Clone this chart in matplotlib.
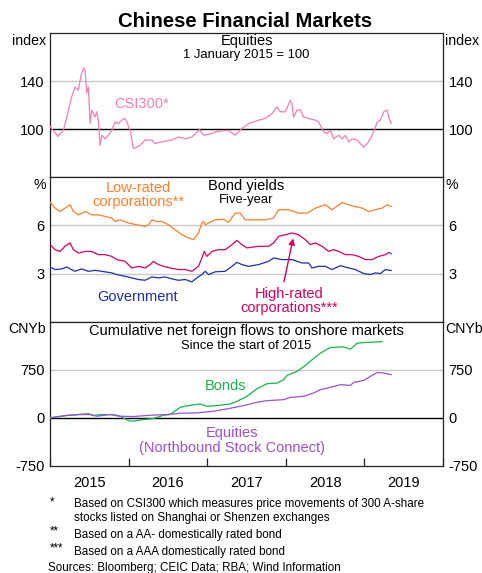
import numpy as np
import matplotlib
matplotlib.use("Agg")
import matplotlib.pyplot as plt

plt.rcParams['font.family'] = ['Liberation Sans', 'DejaVu Sans']

# ---- data (decimal years) ----
csi_t = [2015.000, 2015.098, 2015.169, 2015.213, 2015.276, 2015.318, 2015.361, 2015.395, 2015.429, 2015.446,
         2015.468, 2015.488, 2015.510, 2015.531, 2015.573, 2015.595, 2015.615, 2015.637, 2015.659, 2015.701,
         2015.743, 2015.786, 2015.828, 2015.870, 2015.913, 2015.955, 2015.977, 2016.019, 2016.061, 2016.104,
         2016.146, 2016.210, 2016.296, 2016.338, 2016.423, 2016.550, 2016.634, 2016.720, 2016.805, 2016.902,
         2016.953, 2017.060, 2017.102, 2017.187, 2017.271, 2017.357, 2017.442, 2017.526, 2017.654, 2017.739,
         2017.824, 2017.888, 2017.930, 2017.994, 2018.057, 2018.079, 2018.099, 2018.143, 2018.185, 2018.227,
         2018.290, 2018.376, 2018.418, 2018.482, 2018.525, 2018.567, 2018.609, 2018.673, 2018.716, 2018.758,
         2018.800, 2018.843, 2018.907, 2018.949, 2018.991, 2019.034, 2019.076, 2019.118, 2019.162, 2019.204,
         2019.246, 2019.289, 2019.310, 2019.340]
csi_v = [102.5, 94, 99, 110, 127, 135, 132.5, 145, 151, 149,
         130, 135, 105, 116, 110, 114.5, 107.5, 86.7, 95, 92,
         95, 99, 106, 104.7, 107.5, 109, 106, 99, 84, 85,
         86.7, 91, 91, 88, 89.5, 91, 93.6, 92, 93.6, 99.7,
         95, 96.4, 97.8, 98.6, 99, 95, 100.6, 104.7, 107.5, 109,
         113, 118.6, 114.5, 114.5, 124, 121, 110, 116, 116, 110,
         109, 107.5, 106, 97.8, 96.4, 99, 92, 95, 92, 95,
         89.5, 92, 91, 88, 85, 88, 92, 97.8, 106, 107.5,
         114.5, 116, 110, 104.7]

low_t = [2015.000, 2015.064, 2015.127, 2015.191, 2015.255, 2015.297, 2015.361, 2015.446, 2015.531, 2015.615,
         2015.701, 2015.786, 2015.828, 2015.892, 2015.997, 2016.104, 2016.210, 2016.252, 2016.296, 2016.359,
         2016.423, 2016.507, 2016.592, 2016.678, 2016.762, 2016.825, 2016.889, 2016.932, 2016.953, 2016.975,
         2017.017, 2017.102, 2017.208, 2017.271, 2017.357, 2017.420, 2017.484, 2017.611, 2017.739, 2017.845,
         2017.908, 2018.036, 2018.163, 2018.270, 2018.376, 2018.503, 2018.589, 2018.716, 2018.843, 2018.971,
         2019.055, 2019.140, 2019.225, 2019.289, 2019.340]
low_v = [7.45, 7.08, 6.87, 7.08, 7.29, 6.87, 6.66, 6.87, 6.66, 6.66,
         6.56, 6.46, 6.25, 6.35, 6.15, 6.04, 5.94, 6.04, 6.35, 6.25,
         6.25, 6.04, 5.73, 5.42, 5.22, 5.11, 5.53, 6.15, 6.25, 6.04,
         6.15, 6.35, 6.38, 6.19, 6.77, 6.77, 6.35, 6.35, 6.35, 6.46,
         6.98, 6.98, 6.77, 6.77, 7.08, 7.29, 6.98, 7.43, 7.22, 7.08,
         6.87, 6.98, 7.08, 7.29, 7.18]

high_t = [2015.000, 2015.064, 2015.127, 2015.191, 2015.255, 2015.297, 2015.361, 2015.446, 2015.531, 2015.615,
          2015.701, 2015.786, 2015.850, 2015.955, 2016.041, 2016.125, 2016.210, 2016.274, 2016.316, 2016.380,
          2016.443, 2016.529, 2016.634, 2016.720, 2016.805, 2016.889, 2016.932, 2016.962, 2016.996, 2017.060,
          2017.144, 2017.229, 2017.315, 2017.378, 2017.442, 2017.506, 2017.654, 2017.781, 2017.845, 2017.908,
          2017.994, 2018.079, 2018.163, 2018.248, 2018.312, 2018.376, 2018.461, 2018.545, 2018.609, 2018.673,
          2018.758, 2018.843, 2018.927, 2019.013, 2019.098, 2019.182, 2019.268, 2019.310, 2019.340]
high_v = [4.80, 4.49, 4.38, 4.70, 4.91, 4.49, 4.28, 4.38, 4.38, 4.18,
          4.18, 4.07, 3.87, 3.76, 3.35, 3.45, 3.35, 3.56, 3.76, 3.56,
          3.45, 3.35, 3.25, 3.25, 3.14, 3.45, 3.97, 4.38, 4.07, 4.38,
          4.49, 4.49, 4.80, 5.07, 4.80, 4.60, 4.70, 4.70, 4.91, 5.32,
          5.42, 5.53, 5.42, 5.11, 4.80, 4.91, 4.70, 4.38, 4.49, 4.38,
          4.18, 4.18, 4.07, 3.87, 3.87, 4.07, 4.18, 4.32, 4.24]

gov_t = [2015.000, 2015.064, 2015.149, 2015.213, 2015.255, 2015.318, 2015.404, 2015.488, 2015.573, 2015.659,
         2015.786, 2015.850, 2015.955, 2016.041, 2016.125, 2016.210, 2016.296, 2016.380, 2016.465, 2016.550,
         2016.634, 2016.720, 2016.805, 2016.869, 2016.932, 2016.975, 2017.017, 2017.102, 2017.229, 2017.315,
         2017.378, 2017.442, 2017.526, 2017.654, 2017.781, 2017.845, 2017.952, 2018.079, 2018.206, 2018.290,
         2018.333, 2018.418, 2018.503, 2018.589, 2018.694, 2018.800, 2018.885, 2018.991, 2019.076, 2019.140,
         2019.204, 2019.268, 2019.340]
gov_v = [3.41, 3.25, 3.29, 3.41, 3.29, 3.14, 3.29, 3.14, 3.20, 3.14,
         3.04, 2.94, 2.83, 2.73, 2.63, 2.58, 2.79, 2.73, 2.79, 2.67,
         2.58, 2.63, 2.48, 2.73, 2.94, 3.14, 2.94, 3.11, 3.14, 3.45,
         3.70, 3.56, 3.45, 3.56, 3.76, 3.97, 3.87, 3.87, 3.66, 3.66,
         3.35, 3.45, 3.45, 3.25, 3.49, 3.35, 3.25, 3.00, 2.94, 3.04,
         3.00, 3.25, 3.19]

bond_t = [2015.000, 2015.213, 2015.488, 2015.552, 2015.637, 2015.806, 2015.892, 2015.997, 2016.061, 2016.189,
          2016.316, 2016.443, 2016.529, 2016.656, 2016.783, 2016.911, 2016.996, 2017.124, 2017.293, 2017.378,
          2017.506, 2017.633, 2017.761, 2017.888, 2017.972, 2018.015, 2018.143, 2018.270, 2018.333, 2018.439,
          2018.567, 2018.736, 2018.822, 2018.907, 2018.991, 2019.118, 2019.225]
bond_v = [0, 36, 67, 36, 52, 52, 26, -42, -52, -26,
          -10, 41, 52, 165, 196, 217, 181, 191, 217, 258,
          336, 455, 533, 543, 595, 662, 724, 838, 905, 1009,
          1097, 1107, 1071, 1164, 1174, 1180, 1190]

eq_t = [2015.000, 2015.213, 2015.382, 2015.510, 2015.595, 2015.764, 2015.892, 2016.061, 2016.274, 2016.487,
        2016.656, 2016.869, 2017.080, 2017.293, 2017.462, 2017.633, 2017.761, 2017.972, 2018.057, 2018.227,
        2018.354, 2018.439, 2018.567, 2018.694, 2018.822, 2018.864, 2018.991, 2019.076, 2019.162, 2019.246,
        2019.340]
eq_v = [0, 41, 52, 52, 26, 52, 26, 21, 41, 52,
        72, 78, 103, 150, 191, 243, 269, 284, 320, 336,
        388, 440, 476, 517, 507, 553, 584, 646, 708, 699,
        673]

years = [2015, 2016, 2017, 2018, 2019]

PINK = '#f77db3'
ORANGE = '#ff7f2a'
CRIMSON = '#d9005f'
BLUE = '#1a2fb0'
GREEN = '#18b34a'
PURPLE = '#9a4fd6'
GRID = '#c8c8c8'

LAB = 10.5   # series labels / panel titles
SUB = 9.4    # panel subtitles

fig = plt.figure(figsize=(4.82, 5.73), dpi=100)
gs = fig.add_gridspec(3, 1, left=50/482, right=443/482, top=1-33/573, bottom=1-466/573, hspace=0)
axes = [fig.add_subplot(gs[i]) for i in range(3)]

def style(ax, lo, hi, ticks, grey, black):
    ax.set_ylim(lo, hi)
    ax.set_xlim(2015, 2020)
    for g in grey:
        ax.axhline(g, color=GRID, lw=1.0, zorder=0)
    for b in black:
        ax.axhline(b, color='black', lw=1.0, zorder=1)
    ax.set_yticks(ticks)
    ax.set_yticklabels([str(t) for t in ticks])
    ax.tick_params(axis='y', length=0, labelsize=10.5, pad=4, labelright=True, right=True)
    ax.set_xticks([])
    for s in ax.spines.values():
        s.set_color('#222222')
        s.set_linewidth(0.9)

# --- equities panel
ax = axes[0]
style(ax, 60, 180, [100, 140], [140], [100])
ax.plot(csi_t, csi_v, color=PINK, lw=0.9, zorder=3)
ax.text(0.5, 0.944, 'Equities', transform=ax.transAxes, ha='center', va='center', fontsize=LAB)
ax.text(0.5, 0.847, '1 January 2015 = 100', transform=ax.transAxes, ha='center', va='center', fontsize=SUB)
ax.text(2016.16, 120.8, 'CSI300*', color=PINK, ha='center', va='center', fontsize=LAB)

# --- bond yields panel
ax = axes[1]
style(ax, 0, 9, [3, 6], [3, 6], [])
ax.plot(low_t, low_v, color=ORANGE, lw=0.9, zorder=3)
ax.plot(high_t, high_v, color=CRIMSON, lw=0.9, zorder=3)
ax.plot(gov_t, gov_v, color=BLUE, lw=0.9, zorder=3)
ax.text(0.5, 0.9375, 'Bond yields', transform=ax.transAxes, ha='center', va='center', fontsize=LAB)
ax.text(0.5, 0.84, 'Five-year', transform=ax.transAxes, ha='center', va='center', fontsize=SUB)
ax.text(2016.13, 7.9, 'Low-rated\ncorporations**', color=ORANGE, ha='center', va='center',
        fontsize=LAB, linespacing=1.0)
ax.text(2016.11, 1.53, 'Government', color=BLUE, ha='center', va='center', fontsize=LAB)
ax.text(2018.04, 1.26, 'High-rated\ncorporations***', color=CRIMSON, ha='center', va='center',
        fontsize=LAB, linespacing=1.0)
ax.annotate('', xy=(2018.10, 5.36), xytext=(2017.97, 2.32),
            arrowprops=dict(arrowstyle='-|>', color=CRIMSON, lw=1.0, mutation_scale=9))

# --- flows panel
ax = axes[2]
style(ax, -750, 1500, [-750, 0, 750], [750], [0])
ax.plot(bond_t, bond_v, color=GREEN, lw=0.9, zorder=3)
ax.plot(eq_t, eq_v, color=PURPLE, lw=0.9, zorder=3)
ax.text(0.5, 0.933, 'Cumulative net foreign flows to onshore markets', transform=ax.transAxes,
        ha='center', va='center', fontsize=LAB)
ax.text(0.5, 0.834, 'Since the start of 2015', transform=ax.transAxes, ha='center', va='center', fontsize=SUB)
ax.text(2017.23, 491, 'Bonds', color=GREEN, ha='center', va='center', fontsize=LAB)
ax.text(2017.32, -353, 'Equities\n(Northbound Stock Connect)', color=PURPLE, ha='center', va='center',
        fontsize=LAB, linespacing=1.05)
ax.set_xticks([y for y in years] + [2020])
ax.set_xticklabels([])
ax.set_xticks([y + 0.5 for y in years], minor=True)
ax.set_xticklabels([str(y) for y in years], minor=True)
ax.tick_params(axis='x', which='major', direction='in', length=6, width=0.9, color='#222222')
ax.tick_params(axis='x', which='minor', length=0, labelsize=10.5, pad=7)

# unit labels
for ytop, lab in [(41, 'index'), (185, '%'), (329, 'CNYb')]:
    fig.text(46/482, 1 - ytop/573, lab, ha='right', va='center', fontsize=10.2)
    fig.text(445/482, 1 - ytop/573, lab, ha='left', va='center', fontsize=10.2)

fig.text(245/482, 1 - 21.5/573, 'Chinese Financial Markets', ha='center', va='center',
         fontsize=14.6, fontweight='bold')

# footnotes
fs = 8.35
fig.text(50/482, 1 - 502/573, '*', ha='left', va='center', fontsize=fs)
fig.text(74/482, 1 - 504/573, 'Based on CSI300 which measures price movements of 300 A-share',
         ha='left', va='center', fontsize=fs)
fig.text(74/482, 1 - 518/573, 'stocks listed on Shanghai or Shenzen exchanges', ha='left', va='center', fontsize=fs)
fig.text(50/482, 1 - 531/573, '**', ha='left', va='center', fontsize=fs)
fig.text(74/482, 1 - 535/573, 'Based on a AA- domestically rated bond', ha='left', va='center', fontsize=fs)
fig.text(50/482, 1 - 548/573, '***', ha='left', va='center', fontsize=fs)
fig.text(74/482, 1 - 552/573, 'Based on a AAA domestically rated bond', ha='left', va='center', fontsize=fs)
fig.text(48/482, 1 - 568/573, 'Sources: Bloomberg; CEIC Data; RBA; Wind Information', ha='left', va='center', fontsize=fs)

fig.savefig('out.png', dpi=100)
